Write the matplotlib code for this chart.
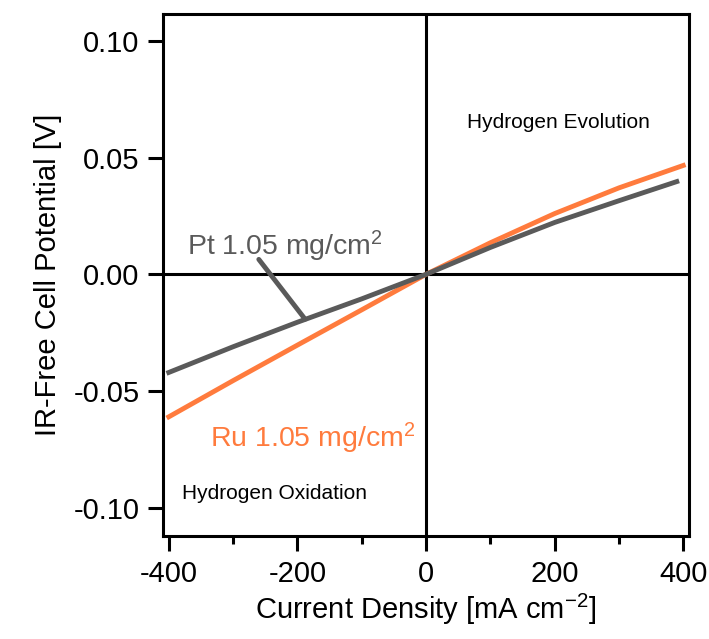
import numpy as np
import matplotlib
matplotlib.use("Agg")
import matplotlib.pyplot as plt
from matplotlib.ticker import MultipleLocator

plt.rcParams['font.family'] = ['Liberation Sans', 'DejaVu Sans']
plt.rcParams['axes.unicode_minus'] = False
plt.rcParams['mathtext.fontset'] = 'custom'
plt.rcParams['mathtext.rm'] = 'Liberation Sans'
plt.rcParams['mathtext.default'] = 'regular'

# current density [mA cm-2] and IR-free potential [V]
current_pt = [-400, -300, -200, -100, 0, 100, 200, 300, 390]
potential_pt = [-0.042, -0.031, -0.0205, -0.0105, 0.0, 0.0115, 0.0222, 0.0315, 0.0397]
current_ru = [-400, -300, -200, -100, 0, 100, 200, 300, 400]
potential_ru = [-0.061, -0.0455, -0.0303, -0.0152, 0.0, 0.0135, 0.026, 0.037, 0.0466]

x_ticks = [-400, -200, 0, 200, 400]
y_ticks = [-0.10, -0.05, 0.00, 0.05, 0.10]

pt_color = "#5a5a5a"
ru_color = "#ff7b3d"

fig = plt.figure(figsize=(7.09, 6.39), dpi=100)
ax = fig.add_axes([0.2299, 0.1612, 0.7419, 0.8175])

ax.axhline(0, color="black", lw=2.2, zorder=1)
ax.axvline(0, color="black", lw=2.2, zorder=1)

ax.plot(current_ru, potential_ru, color=ru_color, lw=3.5, zorder=3)
ax.plot(current_pt, potential_pt, color=pt_color, lw=3.5, zorder=3)

ax.annotate("", xy=(-188, -0.0192), xytext=(-260, 0.0064),
            arrowprops=dict(arrowstyle="-", color=pt_color, lw=3.5, shrinkA=0, shrinkB=0))
ax.text(-372, 0.0081, "Pt 1.05 mg/cm$^{2}$", color=pt_color, fontsize=20.5, ha="left", va="baseline")
ax.text(-336, -0.074, "Ru 1.05 mg/cm$^{2}$", color=ru_color, fontsize=20.5, ha="left", va="baseline")
ax.text(64, 0.065, "Hydrogen Evolution", fontsize=15, ha="left", va="center")
ax.text(-380, -0.0936, "Hydrogen Oxidation", fontsize=15, ha="left", va="center")

ax.set_xlim(-409, 409)
ax.set_ylim(-0.112, 0.1116)
ax.set_xticks(x_ticks)
ax.set_yticks(y_ticks)
ax.set_yticklabels([f"{v:.2f}" for v in y_ticks])
ax.xaxis.set_minor_locator(MultipleLocator(100))

for s in ax.spines.values():
    s.set_linewidth(2.2)
ax.tick_params(axis="both", which="major", direction="out", length=11, width=2.2,
               labelsize=21, pad=6)
ax.tick_params(axis="x", which="minor", direction="out", length=6, width=2.2)

ax.set_xlabel("Current Density [mA cm$^{-2}$]", fontsize=21, labelpad=3)
ax.set_ylabel("IR-Free Cell Potential [V]", fontsize=21, labelpad=8)

fig.savefig("out.png", dpi=100)
